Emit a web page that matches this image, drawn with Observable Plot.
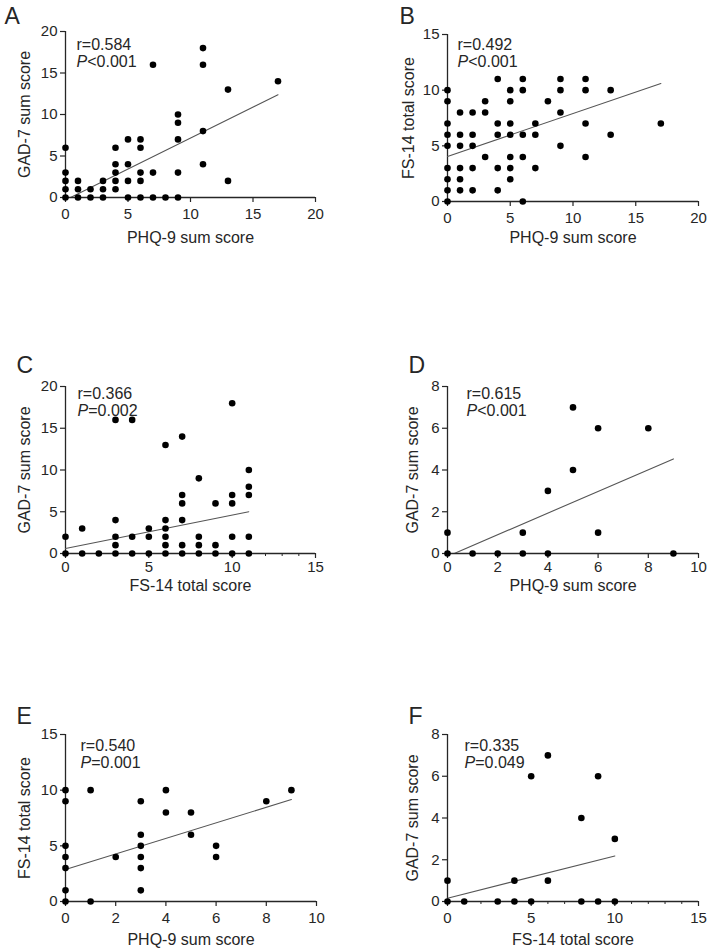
<!DOCTYPE html>
<html><head><meta charset="utf-8">
<script src="https://cdn.jsdelivr.net/npm/d3@7"></script>
<script src="https://cdn.jsdelivr.net/npm/@observablehq/plot@0.6"></script>
<style>
body{margin:0;background:#fff;}
#fig{position:relative;width:709px;height:951px;overflow:hidden;background:#fff;}
.panel{position:absolute;}
</style></head><body><div id="fig"></div>
<script>
// ---- data: [x value, [y values at that x]] ----
const aPoints = [[0,[0,1,2,3,6]],[1,[0,1,2]],[2,[0,1]],[3,[0,1,2]],[4,[1,2,3,4,6]],[5,[0,2,4,7]],[6,[0,2,3,6,7]],[7,[0,3,16]],[8,[0]],[9,[0,3,7,9,10]],[11,[4,8,16,18]],[13,[2,13]],[17,[14]]];
const bPoints = [[0,[0,1,2,3,5,6,7,9,10]],[1,[1,2,3,5,6,8]],[2,[1,3,5,6,8]],[3,[4,8,9]],[4,[1,3,6,7,11]],[5,[2,3,4,6,7,9,10]],[6,[0,4,6,10,11]],[7,[3,6,7]],[8,[9]],[9,[5,8,10,11]],[11,[4,7,10,11]],[13,[6,10]],[17,[7]]];
const cPoints = [[0,[0,2]],[1,[0,3]],[2,[0]],[3,[0,1,2,4,16]],[4,[0,2,16]],[5,[0,2,3]],[6,[0,1,2,3,4,13]],[7,[0,1,4,6,7,14]],[8,[0,1,2,9]],[9,[0,1,6]],[10,[0,2,6,7,18]],[11,[0,2,7,8,10]]];
const dPoints = [[0,[0,1]],[1,[0]],[2,[0]],[3,[0,1]],[4,[0,3]],[5,[4,7]],[6,[1,6]],[8,[6]],[9,[0]]];
const ePoints = [[0,[0,1,3,4,5,9,10]],[1,[0,10]],[2,[4]],[3,[1,3,4,5,6,9]],[4,[8,10]],[5,[6,8]],[6,[4,5]],[8,[9]],[9,[10]]];
const fPoints = [[0,[0,1]],[1,[0]],[3,[0]],[4,[0,1]],[5,[0,6]],[6,[1,7]],[8,[0,4]],[9,[0,6]],[10,[0,3]]];

// regression fits: [x start, x end, intercept, slope]
const aFit = [0, 17, -0.3, 0.746];
const bFit = [0, 17, 4.05, 0.385];
const cFit = [0, 11, 0.6, 0.4];
const dFit = [0, 9, -0.14, 0.519];
const eFit = [0, 9, 2.88, 0.697];
const fFit = [0, 10, 0.16, 0.202];

// statistics text
const letters = ["A","B","C","D","E","F"];
const rTexts = ["r=0.584","r=0.492","r=0.366","r=0.615","r=0.540","r=0.335"];
const pTexts = ["<0.001","<0.001","=0.002","<0.001","=0.001","=0.049"];
const xLabels = ["PHQ-9 sum score","PHQ-9 sum score","FS-14 total score","PHQ-9 sum score","PHQ-9 sum score","FS-14 total score"];
const yLabels = ["GAD-7 sum score","FS-14 total score","GAD-7 sum score","GAD-7 sum score","FS-14 total score","GAD-7 sum score"];

// axis tick values
const ticks20 = [0,5,10,15,20];
const ticks15 = [0,5,10,15];
const ticks10 = [0,2,4,6,8,10];
const ticks8 = [0,2,4,6,8];
const minor15 = d3.range(0,16);

const FONT = '"Liberation Sans", Arial, Helvetica, sans-serif';
const INK = "#262626";

const panels = [
  {pts:aPoints, fit:aFit, xd:[0,20], xt:ticks20, xm:null, yd:[0,20], yt:ticks20,
   pos:[0,0,354,300], m:[31,39,103,65], letter:[-61,-24], ann:[11,7], xlo:45, ylo:47, tp:6},
  {pts:bPoints, fit:bFit, xd:[0,20], xt:ticks20, xm:null, yd:[0,15], yt:ticks15,
   pos:[354,0,355,300], m:[34,11,99,93], letter:[-48,-27], ann:[10,4], xlo:41, ylo:45, tp:6},
  {pts:cPoints, fit:cFit, xd:[0,15], xt:ticks15, xm:minor15, yd:[0,20], yt:ticks20,
   pos:[0,300,354,330], m:[86,39,77,65], letter:[-49,-30], ann:[12,1], xlo:37, ylo:47, tp:3},
  {pts:dPoints, fit:dFit, xd:[0,10], xt:ticks10, xm:null, yd:[0,8], yt:ticks8,
   pos:[354,300,355,330], m:[86,11,77,93], letter:[-39,-30], ann:[19,1], xlo:37, ylo:41, tp:3},
  {pts:ePoints, fit:eFit, xd:[0,10], xt:ticks10, xm:null, yd:[0,15], yt:ticks15,
   pos:[0,630,354,321], m:[104,38,50,65], letter:[-49,-27], ann:[15,5], xlo:43, ylo:47, tp:6},
  {pts:fPoints, fit:fFit, xd:[0,15], xt:ticks15, xm:minor15, yd:[0,8], yt:ticks8,
   pos:[354,630,355,321], m:[104,11,50,93], letter:[-39,-27], ann:[17,5], xlo:43, ylo:41, tp:6}
];

const fig = document.getElementById("fig");
panels.forEach((p, i) => {
  const pts = p.pts.flatMap(([x, ys]) => ys.map(y => ({x, y})));
  const [x1, x2, b, s] = p.fit;
  const fitLine = [{x:x1, y:b + s*x1}, {x:x2, y:b + s*x2}];
  const [left, top, w, h] = p.pos;
  const [mt, mr, mb, ml] = p.m;
  const tf = {fontSize:16, fontFamily:FONT, fill:INK, frameAnchor:"top-left", lineAnchor:"top"};
  const chart = Plot.plot({
    width:w, height:h, marginTop:mt, marginRight:mr, marginBottom:mb, marginLeft:ml,
    style:{fontFamily:FONT, color:INK, background:"#fff", overflow:"visible"},
    x:{domain:p.xd, nice:false},
    y:{domain:p.yd, nice:false},
    marks:[
      Plot.axisY({ticks:p.yt, tickSize:5, tickPadding:3, fontSize:15, stroke:INK, strokeWidth:1.2,
        tickFormat:d=>String(d), label:null}),
      Plot.axisX({ticks:p.xt, tickSize:5, tickPadding:p.tp, fontSize:15, stroke:INK, strokeWidth:1.2,
        tickFormat:d=>String(d), label:null}),
      p.xm ? Plot.axisX({ticks:p.xm, tickSize:3, text:null, label:null, stroke:INK, strokeWidth:1}) : null,
      Plot.ruleX([p.xd[0]], {stroke:INK, strokeWidth:1.3}),
      Plot.ruleY([p.yd[0]], {stroke:INK, strokeWidth:1.3}),
      Plot.line(fitLine, {x:"x", y:"y", stroke:"#555", strokeWidth:1.1, clip:true}),
      Plot.dot(pts, {x:"x", y:"y", r:3.3, fill:"#000", stroke:null}),
      Plot.text([xLabels[i]], {fontSize:16, fontFamily:FONT, fill:INK, frameAnchor:"bottom",
        textAnchor:"middle", lineAnchor:"bottom", dy:p.xlo}),
      Plot.text([yLabels[i]], {fontSize:16, fontFamily:FONT, fill:INK, frameAnchor:"left",
        textAnchor:"middle", lineAnchor:"top", rotate:-90, dx:-p.ylo}),
      Plot.text([letters[i]], {...tf, fontSize:23, dx:p.letter[0], dy:p.letter[1]}),
      Plot.text([rTexts[i]], {...tf, dx:p.ann[0], dy:p.ann[1]}),
      Plot.text(["P"], {...tf, fontStyle:"italic", dx:p.ann[0], dy:p.ann[1]+17}),
      Plot.text([pTexts[i]], {...tf, dx:p.ann[0]+10.7, dy:p.ann[1]+17})
    ]
  });
  const div = document.createElement("div");
  div.className = "panel";
  div.style.left = left + "px";
  div.style.top = top + "px";
  div.appendChild(chart);
  fig.appendChild(div);
});
</script>
</body></html>
